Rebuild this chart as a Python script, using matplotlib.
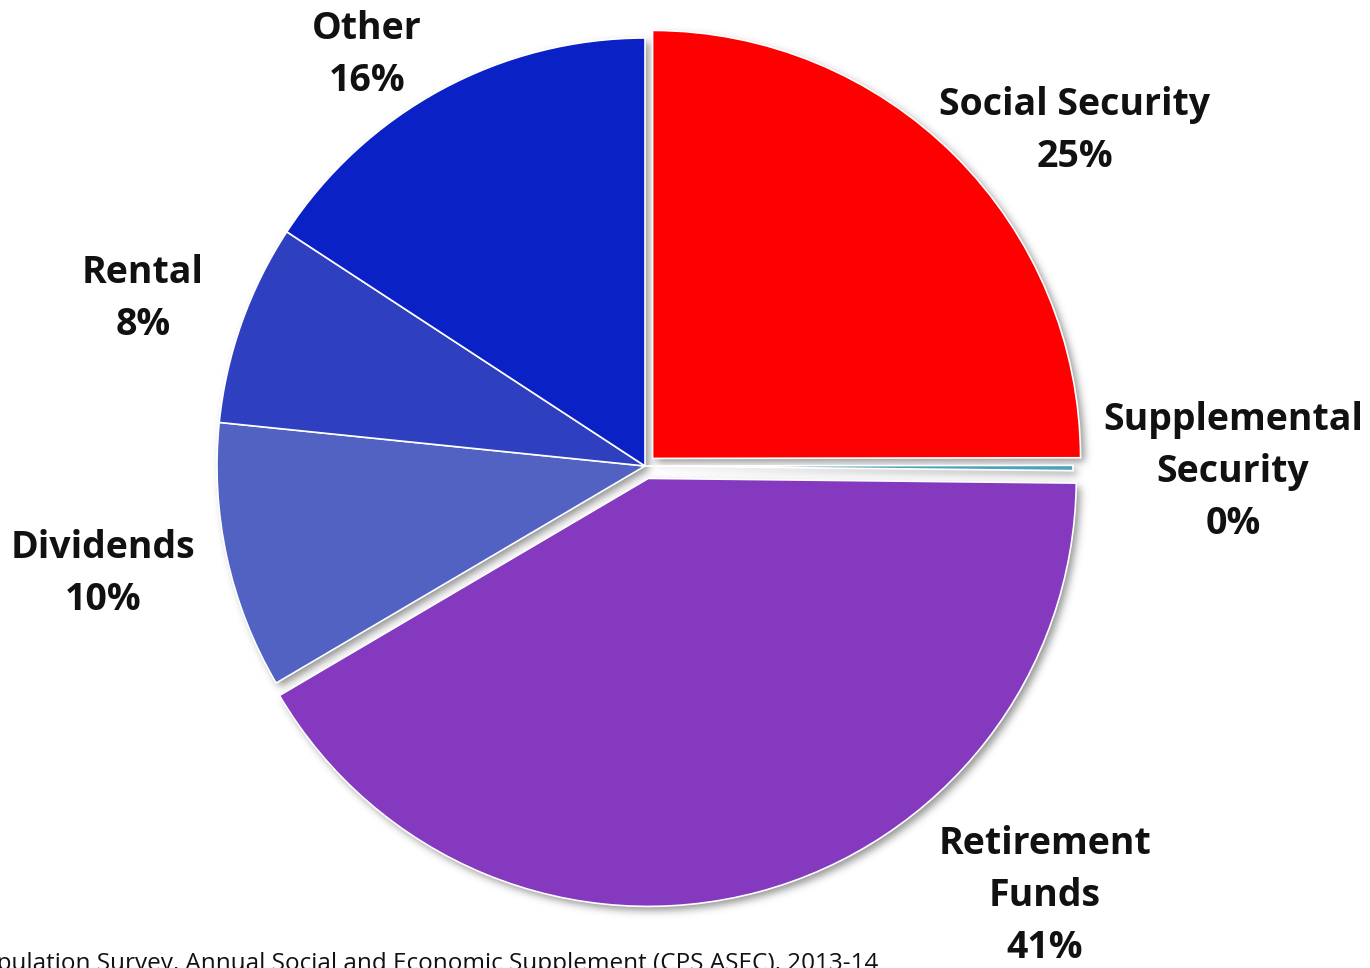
import numpy as np
import matplotlib
matplotlib.use("Agg")
import matplotlib.pyplot as plt

# Income sources (share of total, percent)
sources = ["Social Security", "Supplemental\nSecurity", "Retirement\nFunds",
           "Dividends", "Rental", "Other"]
shares = [25.0, 0.2, 41.4, 10.1, 7.6, 15.8]
colors = ["#FF0000", "#4BA3BA", "#8539BE", "#5262C3", "#2E40BF", "#0A21C5"]
explode_frac = [0.025, 0.0, 0.030, 0.0, 0.0, 0.0]

# Label anchor points (pixels from top-left)
label_xy = [(1075, 131), (1233, 472), (1045, 896), (103, 574), (143, 299), (367, 55)]

source_note = ("Source: Current Population Survey, Annual Social and Economic "
               "Supplement (CPS ASEC), 2013-14")

W, H = 1370, 968
CX, CY, R = 645, H - 466, 428
FONT = ["Open Sans", "DejaVu Sans"]


def draw_pie(ax, center, wedge_colors, lw):
    # pie's explode offsets are in data units, so scale by the radius
    wedges, _ = ax.pie(shares, colors=wedge_colors,
                       explode=[e * R for e in explode_frac], startangle=90,
                       counterclock=False, radius=R, center=center,
                       wedgeprops=dict(edgecolor="white", linewidth=lw))
    ax.set_xlim(0, W)
    ax.set_ylim(0, H)
    ax.set_aspect("equal")
    ax.axis("off")
    return wedges


def gaussian_blur(img, sigma):
    rad = int(3 * sigma)
    x = np.arange(-rad, rad + 1)
    k = np.exp(-x ** 2 / (2 * sigma ** 2))
    k /= k.sum()
    img = np.apply_along_axis(lambda v: np.convolve(v, k, mode="same"), 0, img)
    img = np.apply_along_axis(lambda v: np.convolve(v, k, mode="same"), 1, img)
    return img


# Soft drop shadow: render the pie silhouette offscreen and blur it
sfig = plt.figure(figsize=(W / 100, H / 100), dpi=100)
sax = sfig.add_axes([0, 0, 1, 1])
draw_pie(sax, (CX + 4, CY - 4), ["black"] * len(shares), 0)
sfig.canvas.draw()
mask = 1.0 - np.asarray(sfig.canvas.buffer_rgba())[..., 0].astype(float) / 255.0
plt.close(sfig)
mask = gaussian_blur(mask, 4.0)
shadow = np.zeros((H, W, 4))
shadow[..., :3] = 0.3
shadow[..., 3] = np.clip(mask, 0, 1) * 0.6

fig = plt.figure(figsize=(W / 100, H / 100), dpi=100)
ax = fig.add_axes([0, 0, 1, 1])
ax.imshow(shadow, extent=(0, W, 0, H), origin="upper", zorder=0, interpolation="bilinear")
wedges = draw_pie(ax, (CX, CY), colors, 1.2)
for w in wedges:
    w.set_zorder(2)

for name, share, (lx, ly) in zip(sources, shares, label_xy):
    ax.text(lx, H - ly, f"{name}\n{round(share):.0f}%", ha="center", va="center",
            fontsize=27, fontweight="bold", family=FONT, color="#111111",
            linespacing=1.48, zorder=5)

ax.text(878, -2, source_note, ha="right", va="baseline", fontsize=17.5,
        family=FONT, color="#111111", zorder=5)

fig.savefig("out.png", dpi=100, facecolor="white")
